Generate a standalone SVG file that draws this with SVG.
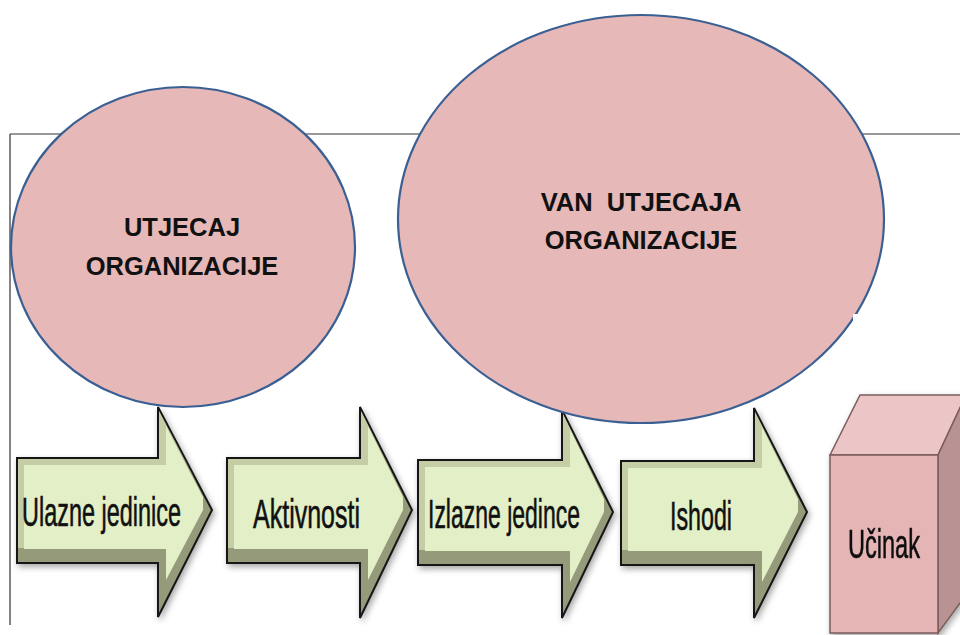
<svg xmlns="http://www.w3.org/2000/svg" width="960" height="635" viewBox="0 0 960 635">
<style>
.frame{stroke:#333;stroke-width:1.2;fill:none}
.circle{fill:#e6b8b7;stroke:#3a6093;stroke-width:2.2}
.ctext{font-family:"Liberation Sans",Arial,sans-serif;font-weight:bold;font-size:25.5px;fill:#111;text-anchor:middle}
.aout{fill:#959b7a;stroke:#151515;stroke-width:2;stroke-linejoin:miter}
.alight{fill:#c4cda6}
.aface{fill:#e3efc7}
.atext{font-family:"Liberation Sans",Arial,sans-serif;font-size:40px;fill:#111;stroke:#111;stroke-width:0.6}
.cube{stroke:#7a5c5c;stroke-width:1.5}
</style>
<defs>
<filter id="sh" x="-10%" y="-10%" width="130%" height="130%">
<feDropShadow dx="2" dy="3" stdDeviation="3" flood-color="#000" flood-opacity="0.35"/>
</filter>
</defs>
<rect width="960" height="635" fill="#fff"/>
<g id="frame">
<path class="frame" d="M10,134 H960 M10,134 V625"/>
</g>
<g id="connectors">
<g id="arrow-ulazne" filter="url(#sh)">
<path class="aout" d="M17,458 H158 V407 L212,510 L158,617 V563 H17 Z"/>
<path class="alight" d="M18,459 H159 V411 L200,489 L166,426 V465 H24 V548 H18 Z"/>
<path class="aface" d="M24,465 H166 V426 L203,497 L203,510 L166,580 V549 H24 Z"/>
</g>
<g id="arrow-aktivnosti" filter="url(#sh)">
<path class="aout" d="M227,458 H360 V407 L412,510 L360,618 V563 H227 Z"/>
<path class="alight" d="M228,459 H361 V411 L400,489 L368,426 V465 H234 V548 H228 Z"/>
<path class="aface" d="M234,465 H368 V426 L403,497 L403,510 L368,580 V549 H234 Z"/>
</g>
<g id="arrow-izlazne" filter="url(#sh)">
<path class="aout" d="M418,460 H562 V410 L613,512 L562,618 V565 H418 Z"/>
<path class="alight" d="M419,461 H563 V414 L601,491 L570,429 V467 H425 V550 H419 Z"/>
<path class="aface" d="M425,467 H570 V429 L604,499 L604,512 L570,582 V551 H425 Z"/>
</g>
<g id="arrow-ishodi" filter="url(#sh)">
<path class="aout" d="M621,461 H754 V408 L807,512 L754,618 V565 H621 Z"/>
<path class="alight" d="M622,462 H755 V412 L795,491 L762,427 V468 H628 V550 H622 Z"/>
<path class="aface" d="M628,468 H762 V427 L798,499 L798,512 L762,582 V551 H628 Z"/>
</g>
</g>
<g id="labels-arrows">
<text class="atext" x="22" y="526" textLength="159" lengthAdjust="spacingAndGlyphs">Ulazne jedinice</text>
<text class="atext" x="253" y="528" textLength="107" lengthAdjust="spacingAndGlyphs">Aktivnosti</text>
<text class="atext" x="428" y="528" textLength="152" lengthAdjust="spacingAndGlyphs">Izlazne jedince</text>
<text class="atext" x="670" y="530" textLength="62" lengthAdjust="spacingAndGlyphs">Ishodi</text>
</g>
<g id="node-ucinak" filter="url(#sh)">
<polygon class="cube" fill="#ecc6c6" points="830,455 860,395 966,395 938,455"/>
<polygon class="cube" fill="#b99393" points="938,455 966,395 966,595 938,633"/>
<rect class="cube" fill="#e5b5b5" x="830" y="455" width="108" height="178"/>
<text class="atext" x="848" y="558" textLength="72" lengthAdjust="spacingAndGlyphs">Učinak</text>
</g>
<g id="node-utjecaj">
<ellipse class="circle" cx="183" cy="247" rx="172" ry="160"/>
<text class="ctext" x="182" y="236">UTJECAJ</text>
<text class="ctext" x="182" y="275">ORGANIZACIJE</text>
</g>
<g id="node-van-utjecaja">
<ellipse class="circle" cx="641" cy="219" rx="243" ry="204"/>
<rect x="853" y="314" width="10" height="34" fill="#fff"/>
<text class="ctext" x="641" y="211" xml:space="preserve">VAN  UTJECAJA</text>
<text class="ctext" x="641" y="249">ORGANIZACIJE</text>
</g>
</svg>
